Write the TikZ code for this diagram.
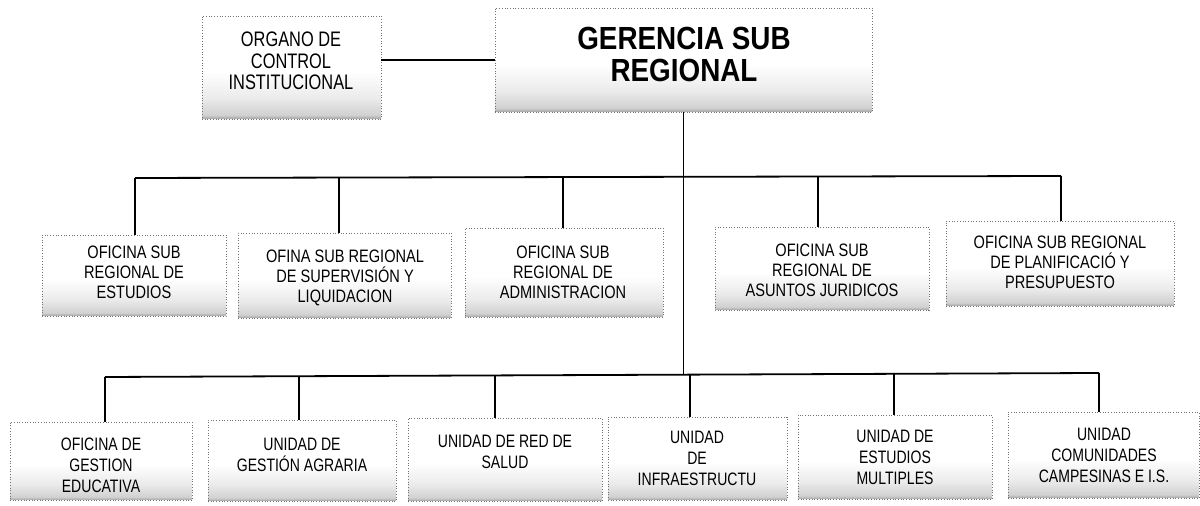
\documentclass[tikz,border=0pt]{standalone}
\usepackage{fontspec}
\setmainfont{Liberation Sans}
\newfontfamily\narrowA[FakeStretch=0.78]{Liberation Sans}
\newfontfamily\narrowB[FakeStretch=0.81]{Liberation Sans}
\newfontfamily\narrowG[FakeStretch=0.87]{Liberation Sans}
\usetikzlibrary{fit}
\pgfdeclareverticalshading{boxshade}{100bp}{color(0bp)=(black!36); color(25bp)=(black!36); color(27bp)=(black!18); color(35bp)=(black!8); color(48bp)=(white); color(100bp)=(white)}
\tikzset{
  box/.style={draw=black!55, densely dotted, line width=0.35pt, shade, shading=boxshade, inner sep=0pt, rectangle},
  conn/.style={line width=0.9pt, black},
  lblA/.style={align=center, inner sep=0pt, font=\narrowA\fontsize{10.5}{10.8}\selectfont},
  lblG/.style={align=center, inner sep=0pt, font=\narrowG\fontsize{16}{16}\selectfont\bfseries},
  lblB/.style={align=center, inner sep=0pt, font=\narrowB\fontsize{9}{10}\selectfont},
  lblC/.style={align=center, inner sep=0pt, font=\narrowA\fontsize{9}{10.5}\selectfont}
}
\begin{document}
\begin{tikzpicture}[x=0.5pt,y=-0.5pt]
\useasboundingbox (0,0) rectangle (1200,506);
% boxes
\node[box, fit={(202,16) (381,119)}] (o) {};
\node[box, fit={(495,8) (872,112)}] (g) {};
\node[box, fit={(42,235) (226,316)}] (b1) {};
\node[box, fit={(238,233) (451,318)}] (b2) {};
\node[box, fit={(465,228) (663,317)}] (b3) {};
\node[box, fit={(715,227) (929,310)}] (b4) {};
\node[box, fit={(946,221) (1174,306)}] (b5) {};
\node[box, fit={(10,422) (192,500)}] (c1) {};
\node[box, fit={(208,420) (396,501)}] (c2) {};
\node[box, fit={(408,418) (602,501)}] (c3) {};
\node[box, fit={(608,417) (787,500)}] (c4) {};
\node[box, fit={(798,415) (992,499)}] (c5) {};
\node[box, fit={(1008,412) (1199,498)}] (c6) {};
% labels
\node[lblA] (ot) at (291,61) {ORGANO DE\\CONTROL\\INSTITUCIONAL};
\node[lblG] (gt) at (684,54) {GERENCIA SUB\\REGIONAL};
\node[lblB] (b1t) at (134,272) {OFICINA SUB\\REGIONAL DE\\ESTUDIOS};
\node[lblB] (b2t) at (345,278) {OFINA SUB REGIONAL\\DE SUPERVISIÓN Y\\LIQUIDACION};
\node[lblB] (b3t) at (563,272) {OFICINA SUB\\REGIONAL DE\\ADMINISTRACION};
\node[lblB] (b4t) at (822,270) {OFICINA SUB\\REGIONAL DE\\ASUNTOS JURIDICOS};
\node[lblB] (b5t) at (1060,262) {OFICINA SUB REGIONAL\\DE PLANIFICACIÓ Y\\PRESUPUESTO};
\node[lblC] (c1t) at (101,465) {OFICINA DE\\GESTION\\EDUCATIVA};
\node[lblC] (c2t) at (302,455) {UNIDAD DE\\GESTIÓN AGRARIA};
\node[lblC] (c3t) at (505,452) {UNIDAD DE RED DE\\SALUD};
\node[lblC] (c4t) at (697,458) {UNIDAD\\DE\\INFRAESTRUCTU};
\node[lblC] (c5t) at (895,457) {UNIDAD DE\\ESTUDIOS\\MULTIPLES};
\node[lblC] (c6t) at (1104,455) {UNIDAD\\COMUNIDADES\\CAMPESINAS E I.S.};
% bus coordinates
\coordinate (m1) at (135,178);
\coordinate (m2) at (339,178);
\coordinate (m3) at (563,177);
\coordinate (m4) at (818,176);
\coordinate (m5) at (1061,176);
\coordinate (n1) at (105,377);
\coordinate (n2) at (299,377);
\coordinate (n3) at (495,376);
\coordinate (n4) at (690,375);
\coordinate (n5) at (894,374);
\coordinate (n6) at (1099,373);
% connectors
\draw[conn] (g.west) -- (g.west -| o.east);
\draw[conn] (g.south) -- (g.south |- n4);
\draw[conn] (m1) -- (m5);
\foreach \m/\b in {m1/b1,m2/b2,m3/b3,m4/b4,m5/b5}{
  \draw[conn] (\m) -- (\m |- \b.north);
}
\draw[conn] (n1) -- (n6);
\foreach \n/\c in {n1/c1,n2/c2,n3/c3,n4/c4,n5/c5,n6/c6}{
  \draw[conn] (\n) -- (\n |- \c.north);
}
\end{tikzpicture}
\end{document}
